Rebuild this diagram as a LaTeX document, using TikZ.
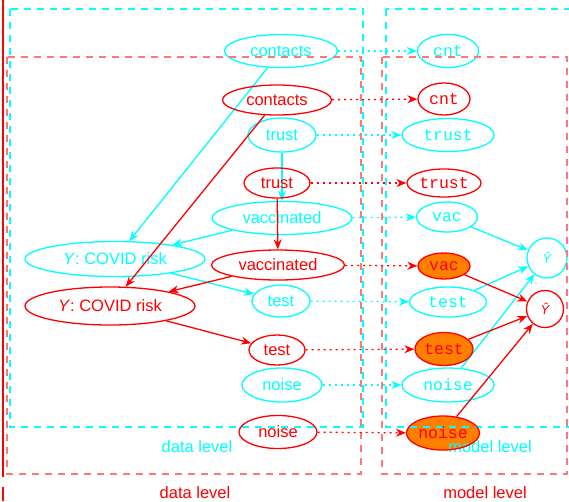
\documentclass[tikz,border=0pt]{standalone}
\usepackage{fontspec}
\setmainfont{Liberation Sans}
\setmonofont{Liberation Mono}
\usetikzlibrary{shapes.geometric, arrows.meta}
\definecolor{aqua}{RGB}{0,255,255}
\definecolor{pure red}{RGB}{255,0,0}
\definecolor{pale red}{RGB}{255,120,120}
\definecolor{pick}{RGB}{255,127,0}

\begin{document}
\begin{tikzpicture}[x=1pt, y=-1pt, >={Stealth[length=10pt, width=8pt]},
    font=\fontsize{16.5}{18}\selectfont]
    \tikzstyle{var} = [draw, ellipse, line width=1.3pt, inner xsep=-8pt, inner ysep=0pt]
    \tikzstyle{feat} = [var, font=\fontsize{16.5}{18}\selectfont\ttfamily]
    \tikzstyle{outcome} = [draw, circle, line width=1.3pt, inner sep=0pt, font=\fontsize{13}{14}\selectfont\itshape]
    \tikzstyle{cluster} = [line width=1.2pt, dash pattern=on 7pt off 6pt]
    \tikzstyle{copy} = [->, line width=1.3pt, dash pattern=on 2pt off 4pt]

    \useasboundingbox (0,0) rectangle (569,501);

    % picked features of the second run, filled underneath both runs
    \fill[pick] (444,266) ellipse [x radius=26pt, y radius=13pt];
    \fill[pick] (444,349) ellipse [x radius=29pt, y radius=16.5pt];
    \fill[pick] (443,433) ellipse [x radius=36.5pt, y radius=17pt];

    % first run (cyan)
    \begin{scope}[aqua]
        \draw[cluster] (10,9) rectangle (363,427);
        \draw[cluster] (386,9) rectangle (600,427);
        \node (dlevelA) at (197,447) {data level};
        \node (mlevelA) at (490,447) {model level};

        \path[->, line width=1.3pt]
            node[var, minimum width=113pt, minimum height=33pt] (contactsA) at (281,51) {contacts}
            node[var, minimum width=68pt, minimum height=34pt] (trustA) at (282,135) {trust}
            node[var, minimum width=140pt, minimum height=33pt] (vaccA) at (282,218) {vaccinated}
            node[var, minimum width=180pt, minimum height=35pt] (riskA) at (115,259) {\textit{Y}: COVID risk}
            node[var, minimum width=58pt, minimum height=32pt] (testA) at (281,301) {test}
            node[var, minimum width=80pt, minimum height=34pt] (noiseA) at (282,385) {noise}

            node[feat, minimum width=61pt, minimum height=33pt] (cntA) at (448,51) {cnt}
            node[feat, minimum width=92pt, minimum height=33pt] (mtrustA) at (448,135) {trust}
            node[feat, minimum width=61pt, minimum height=30pt] (vacA) at (447,217) {vac}
            node[feat, minimum width=77pt, minimum height=30pt] (mtestA) at (448,302) {test}
            node[feat, minimum width=92pt, minimum height=34pt] (mnoiseA) at (448,385) {noise}
            node[outcome, minimum size=40pt] (yhatA) at (547,258) {Ŷ}

            (contactsA) edge (riskA)
            (trustA) edge (vaccA)
            (vaccA) edge (riskA)
            (riskA) edge (testA)

            (contactsA) edge[copy] (cntA)
            (trustA) edge[copy] (mtrustA)
            (vaccA) edge[copy] (vacA)
            (testA) edge[copy] (mtestA)
            (noiseA) edge[copy] (mnoiseA)

            (vacA) edge (yhatA)
            (mtestA) edge (yhatA)
            (mnoiseA) edge (yhatA)
        ;
    \end{scope}

    % second run (red), laid over the first
    \begin{scope}[pure red]
        \draw[line width=2pt] (3,0) -- (3,477) (3,487) -- (3,501);
        \draw[cluster, pale red] (7,57) rectangle (361,474);
        \draw[cluster, pale red] (382,57) rectangle (567,474);
        \node (dlevelB) at (195,493) {data level};
        \node (mlevelB) at (485,493) {model level};

        \path[->, line width=1.3pt]
            node[var, minimum width=109pt, minimum height=30pt] (contactsB) at (277,100) {contacts}
            node[var, minimum width=66pt, minimum height=30pt] (trustB) at (277,183) {trust}
            node[var, minimum width=133pt, minimum height=30pt] (vaccB) at (278,265) {vaccinated}
            node[var, minimum width=170pt, minimum height=38pt] (riskB) at (110,306) {\textit{Y}: COVID risk}
            node[var, minimum width=56pt, minimum height=30pt] (testB) at (277,350) {test}
            node[var, minimum width=78pt, minimum height=33pt] (noiseB) at (278,432) {noise}

            node[feat, minimum width=52pt, minimum height=32pt] (cntB) at (444,99) {cnt}
            node[feat, minimum width=74pt, minimum height=28pt] (mtrustB) at (444,183) {trust}
            node[feat, minimum width=52pt, minimum height=26pt] (vacB) at (444,266) {vac}
            node[feat, minimum width=58pt, minimum height=33pt] (mtestB) at (444,349) {test}
            node[feat, minimum width=73pt, minimum height=34pt] (mnoiseB) at (443,433) {noise}
            node[outcome, minimum size=37pt] (yhatB) at (545,309) {Ŷ}

            (contactsB) edge (riskB)
            (trustB) edge (vaccB)
            (vaccB) edge (riskB)
            (riskB) edge (testB)

            (contactsB) edge[copy] (cntB)
            (trustB) edge[copy] (mtrustB)
            (vaccB) edge[copy] (vacB)
            (testB) edge[copy] (mtestB)
            (noiseB) edge[copy] (mnoiseB)

            (vacB) edge (yhatB)
            (mtestB) edge (yhatB)
            (mnoiseB) edge (yhatB)
        ;
    \end{scope}
\end{tikzpicture}
\end{document}
